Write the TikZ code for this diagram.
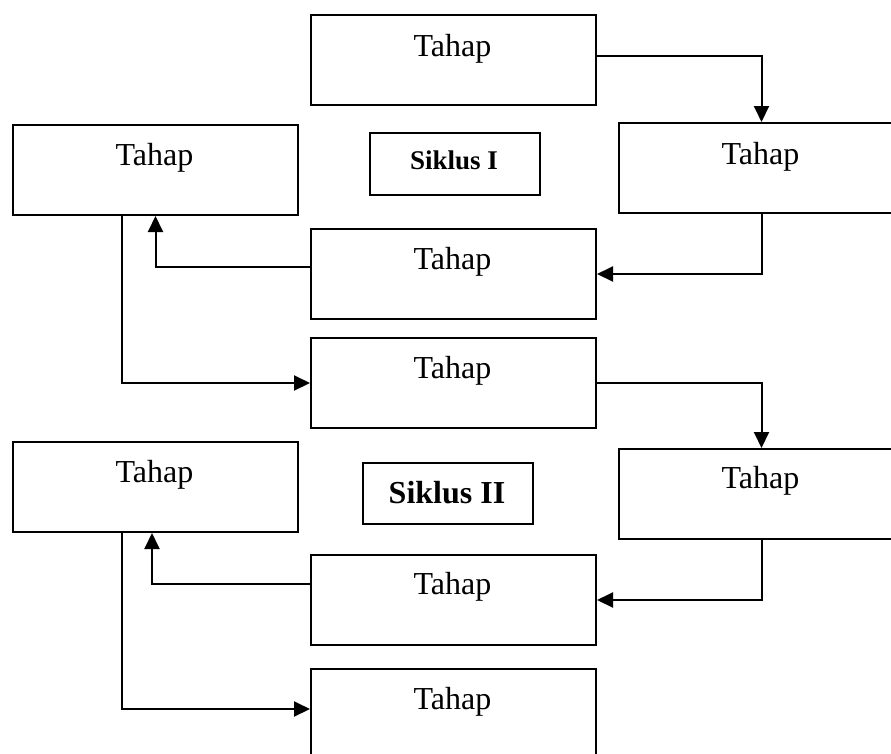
\documentclass[tikz,border=0pt]{standalone}
\usepackage{fontspec}
\setmainfont{Liberation Serif}
\usetikzlibrary{arrows.meta}
\tikzset{
  box/.style={draw=black, line width=2pt, minimum width=285pt, minimum height=90pt, inner sep=0pt, anchor=north west},
  sbox/.style={draw=black, line width=2pt, inner sep=0pt, anchor=north west},
  ttext/.style={anchor=base, inner sep=0pt, font=\fontsize{32}{38}\selectfont},
  arr/.style={draw=black, line width=2pt, -{Triangle[length=16pt, width=15pt]}}
}
\begin{document}
\begin{tikzpicture}[x=1pt, y=-1pt]
\useasboundingbox (0,0) rectangle (891,753);
\fill[white] (0,0) rectangle (891,753);
\clip (0,0) rectangle (891,753);
% boxes
\node[box] (b1) at (310,14) {};
\node[box] (b2) at (618,122) {};
\node[box] (b3) at (12,124) {};
\node[sbox, minimum width=170pt, minimum height=62pt] (s1) at (369,132) {};
\node[box] (b5) at (310,228) {};
\node[box] (b6) at (310,337) {};
\node[box] (b7) at (618,448) {};
\node[box] (b8) at (12,441) {};
\node[sbox, minimum width=170pt, minimum height=61pt] (s2) at (362,462) {};
\node[box] (b10) at (310,554) {};
\node[box] (b11) at (310,668) {};
% texts
\node[ttext] (t1) at (452.5,56) {Tahap};
\node[ttext] (t2) at (760.5,164) {Tahap};
\node[ttext] (t3) at (154.5,165) {Tahap};
\node[anchor=base, inner sep=0pt, font=\fontsize{27}{32}\selectfont\bfseries] (ts1) at (454,169) {Siklus I};
\node[ttext] (t5) at (452.5,269) {Tahap};
\node[ttext] (t6) at (452.5,378) {Tahap};
\node[ttext] (t7) at (760.5,488) {Tahap};
\node[ttext] (t8) at (154.5,482) {Tahap};
\node[anchor=base, inner sep=0pt, font=\fontsize{32}{38}\selectfont\bfseries] (ts2) at (447,503) {Siklus II};
\node[ttext] (t10) at (452.5,594) {Tahap};
\node[ttext] (t11) at (452.5,709) {Tahap};
% connectors
\draw[arr] ([yshift=4pt]b1.east) -| (b2);
\draw[arr] (b2) |- (b5);
\draw[arr] ([yshift=7pt]b5.west) -| (b3);
\draw[arr] ([xshift=-33.5pt]b3.south) |- (b6);
\draw[arr] (b6) -| (b7);
\draw[arr] (b7) |- (b10);
\draw[arr] ([yshift=16pt]b10.west) -| ([xshift=-3.5pt]b8.south);
\draw[arr] ([xshift=-33.5pt]b8.south) |- ([yshift=5pt]b11.west);
\end{tikzpicture}
\end{document}
